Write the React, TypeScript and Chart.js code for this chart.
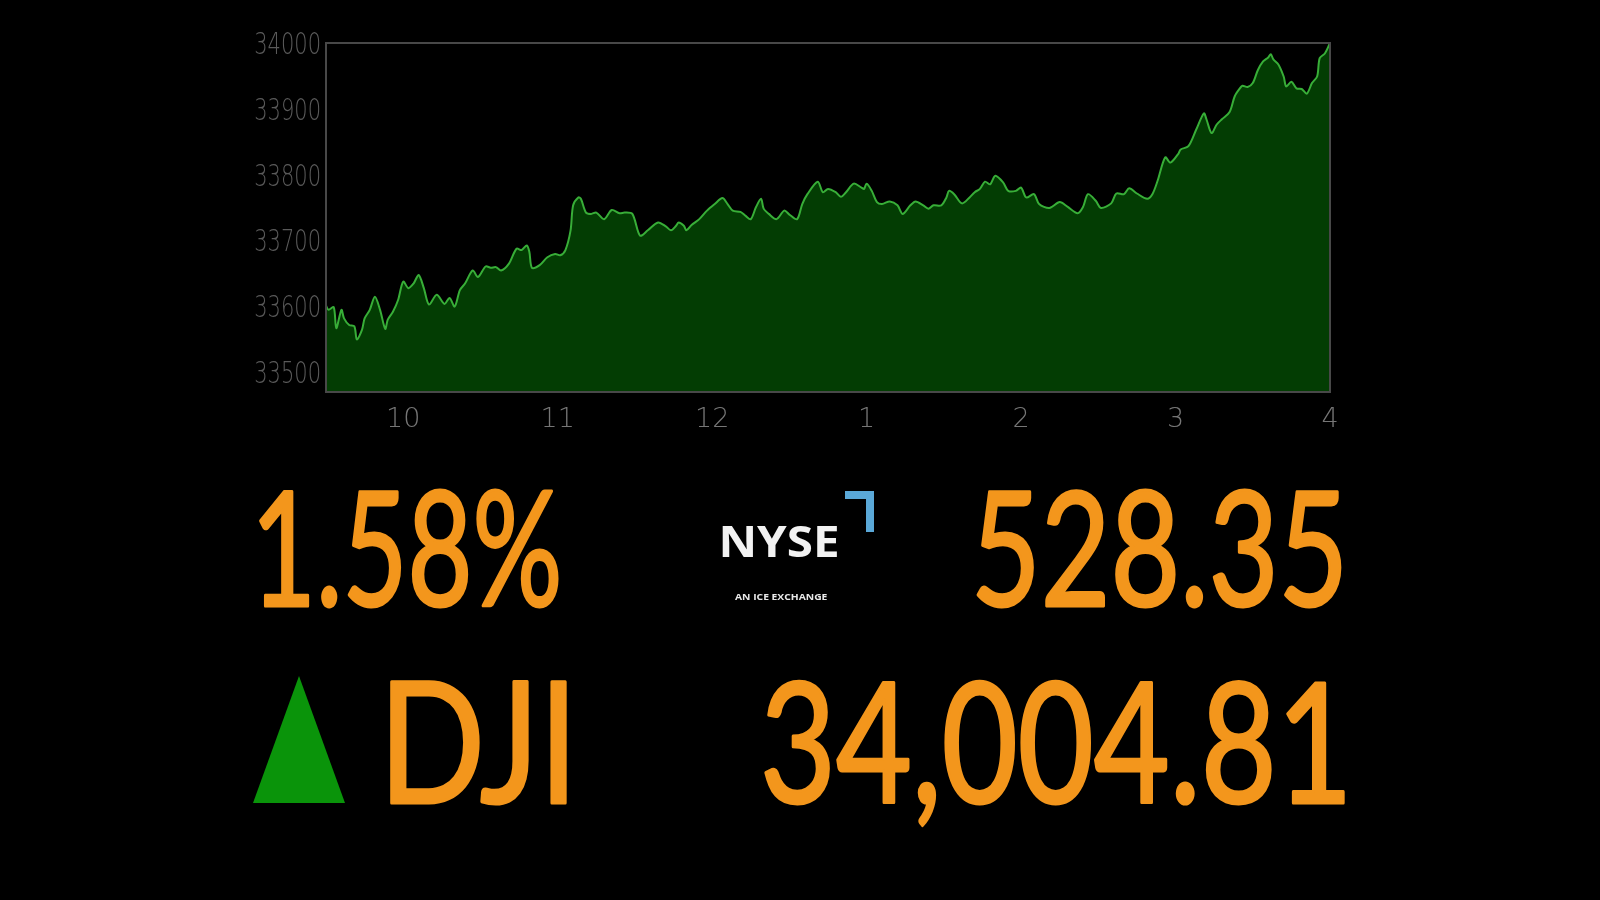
import React, { useEffect, useRef, useMemo } from "react";
import { Chart, registerables } from "chart.js";

Chart.register(...registerables);

// Minutes after 9:30 (trading session 9:30 - 16:00)
const minutes = [
  0, 1, 3, 4, 6, 7, 9, 11, 12, 14, 15, 17, 19, 21, 23, 24, 26, 28, 30, 32, 34, 36, 38, 40, 43, 46, 48, 50, 52, 54, 57, 59, 62, 64, 66,
  68, 71, 74, 76, 78, 79, 80, 83, 86, 89, 91, 93, 95, 96, 98, 99, 101, 103, 105, 108, 111, 114, 116, 119, 122, 125, 129, 132, 134,
  136, 137, 139, 140, 142, 145, 148, 151, 154, 156, 158, 161, 163, 165, 167, 169, 170, 172, 175, 178, 180, 183, 185, 187, 191, 193, 195, 198, 200,
  202, 205, 208, 209, 210, 212, 214, 216, 219, 222, 224, 227, 229, 232, 234, 236, 239, 241, 242, 244, 247, 250, 252, 254, 256, 258, 260, 263, 265,
  268, 270, 272, 275, 277, 281, 285, 288, 292, 294, 296, 299, 301, 305, 307, 310, 312, 315, 319, 321, 323, 326, 328, 331,
  332, 335, 338, 341, 342, 344, 346, 348, 351, 353, 355, 356, 358, 360, 362, 364, 366, 367, 368, 370, 372, 373, 375, 377, 379, 381, 383, 385, 386, 388, 390,
];

const dji = [
  33605, 33599, 33603, 33571, 33599, 33586, 33576, 33574, 33554, 33569, 33586, 33599, 33619, 33599, 33570, 33584, 33596, 33614, 33642, 33632, 33639, 33652, 33632, 33607, 33622, 33608, 33617, 33604, 33629, 33639, 33659, 33649, 33665, 33663, 33664,
  33659, 33669, 33692, 33690, 33697, 33687, 33663, 33667, 33679, 33684, 33682, 33690, 33720, 33758, 33770, 33768, 33747, 33745, 33747, 33737, 33751, 33746, 33747, 33745, 33712, 33720, 33732, 33726, 33720,
  33727, 33732, 33727, 33720, 33728, 33737, 33750, 33760, 33769, 33760, 33750, 33748, 33742, 33737, 33755, 33768, 33753, 33745, 33737, 33750, 33744, 33737, 33760, 33775, 33794, 33778, 33783, 33778, 33771,
  33778, 33791, 33785, 33783, 33791, 33780, 33763, 33760, 33764, 33758, 33745, 33758, 33764, 33758, 33753, 33758, 33758, 33770, 33780, 33775, 33761, 33770, 33778, 33783, 33794, 33790, 33803, 33793, 33780,
  33780, 33785, 33770, 33775, 33760, 33754, 33763, 33756, 33746, 33755, 33775, 33765, 33754, 33761, 33776, 33775, 33784, 33776, 33768, 33775, 33795, 33831, 33823, 33836,
  33843, 33848, 33873, 33898, 33889, 33868, 33881, 33889, 33900, 33924, 33936, 33940, 33938, 33944, 33964, 33977, 33983, 33988, 33980, 33972, 33954, 33939, 33946, 33936, 33935, 33928, 33944, 33954, 33982, 33989, 34005,
];

const hourTicks = [30, 90, 150, 210, 270, 330, 390];
const hourLabels = ["10", "11", "12", "1", "2", "3", "4"];
const yMin = 33474;
const yMax = 34005;
const yStep = 100;

const percentChange = "1.58%";
const pointChange = "528.35";
const indexName = "DJI";
const indexValue = "34,004.81";

const AXIS_FONT = "'DejaVu Sans'";
const BIG_FONT = "Lato";

let measureCtx: CanvasRenderingContext2D | null = null;
function fitTransform(text: string, family: string, weight: number, size: number, left: number, right: number, top: number, baseline: number) {
  if (!measureCtx) measureCtx = document.createElement("canvas").getContext("2d");
  const ctx = measureCtx!;
  ctx.font = `${weight} ${size}px ${family}`;
  const m = ctx.measureText(text);
  const inkW = m.actualBoundingBoxLeft + m.actualBoundingBoxRight;
  const sx = (right - left) / inkW;
  const sy = (baseline - top) / m.actualBoundingBoxAscent;
  const tx = left + sx * m.actualBoundingBoxLeft;
  return `translate(${tx} ${baseline}) scale(${sx} ${sy})`;
}

function FitText(props: { text: string; family: string; weight: number; size: number; box: number[]; fill: string; stroke?: number }) {
  const { text, family, weight, size, box, fill, stroke } = props;
  const tr = useMemo(() => fitTransform(text, family, weight, size, box[0], box[1], box[2], box[3]), [text, family, weight, size, box]);
  return (
    <text
      x={0}
      y={0}
      transform={tr}
      fontFamily={family}
      fontWeight={weight}
      fontSize={size}
      fill={fill}
      stroke={stroke ? fill : undefined}
      strokeWidth={stroke || undefined}
      strokeLinejoin="round"
    >
      {text}
    </text>
  );
}

// Draw a thin frame round the plot area
const frame = {
  id: "frame",
  afterDatasetsDraw(chart: any) {
    const { ctx, chartArea } = chart;
    ctx.save();
    ctx.strokeStyle = "#484848";
    ctx.lineWidth = 2;
    ctx.strokeRect(chartArea.left, chartArea.top, chartArea.right - chartArea.left, chartArea.bottom - chartArea.top);
    ctx.restore();
  },
};

// Narrow the y-axis labels horizontally (the reference uses a condensed face)
const narrowLabels = {
  id: "narrowLabels",
  afterLayout(chart: any) {
    const ys = chart.scales.y;
    if (!ys || ys.__narrowed) return;
    const orig = ys.drawLabels.bind(ys);
    ys.drawLabels = (area: any) => {
      const ctx = chart.ctx;
      const ax = ys.right - 5;
      ctx.save();
      ctx.translate(ax, 0);
      ctx.scale(0.7, 1);
      ctx.translate(-ax, 0);
      orig(area);
      ctx.restore();
    };
    ys.__narrowed = true;
  },
};

export default function App() {
  const canvasRef = useRef<HTMLCanvasElement | null>(null);

  useEffect(() => {
    const points = minutes.map((m, i) => ({ x: m, y: dji[i] }));
    const chart = new Chart(canvasRef.current!, {
      type: "line",
      data: {
        datasets: [
          {
            data: points,
            borderColor: "#38ae38",
            borderWidth: 2,
            backgroundColor: "#033d03",
            fill: "start",
            tension: 0.3,
            pointRadius: 0,
          },
        ],
      },
      options: {
        animation: false,
        responsive: false,
        maintainAspectRatio: false,
        layout: { padding: { top: 43, right: 270, left: 0, bottom: 0 } },
        plugins: { legend: { display: false }, tooltip: { enabled: false } },
        scales: {
          x: {
            type: "linear",
            min: 0,
            max: 390,
            grid: { display: false, drawTicks: false },
            border: { display: false },
            afterBuildTicks: (s: any) => {
              s.ticks = hourTicks.map((v) => ({ value: v }));
            },
            afterFit: (s: any) => {
              s.height = 68;
            },
            ticks: {
              autoSkip: false,
              maxRotation: 0,
              padding: 12,
              color: "#767676",
              font: { family: AXIS_FONT, size: 27, weight: 200 },
              callback: (_v: any, i: number) => hourLabels[i],
            },
          },
          y: {
            min: yMin,
            max: yMax,
            grid: { display: false, drawTicks: false },
            border: { display: false },
            afterFit: (s: any) => {
              s.width = 326;
            },
            ticks: {
              stepSize: yStep,
              includeBounds: false,
              padding: 5,
              color: "#5a5a5a",
              font: { family: AXIS_FONT, size: 30, weight: 200 },
              callback: (v: any) => String(v),
            },
          },
        },
      },
      plugins: [frame, narrowLabels],
    } as any);
    return () => chart.destroy();
  }, []);

  const orange = "#f3961c";

  return (
    <div style={{ position: "fixed", left: 0, top: 0, width: 1600, height: 900, background: "#000", overflow: "hidden" }}>
      <canvas ref={canvasRef} width={1600} height={460} style={{ position: "absolute", left: 0, top: 0, width: 1600, height: 460 }} />
      <svg width={1600} height={900} style={{ position: "absolute", left: 0, top: 0 }}>
        <FitText text={percentChange} family={BIG_FONT} weight={400} size={160} box={[260, 558, 490, 606]} fill={orange} stroke={3} />
        <FitText text={pointChange} family={BIG_FONT} weight={400} size={160} box={[977, 1341, 490, 606]} fill={orange} stroke={3} />
        <FitText text={indexName} family={BIG_FONT} weight={400} size={160} box={[391, 566, 682, 803]} fill={orange} stroke={3} />
        <FitText text={indexValue} family={BIG_FONT} weight={400} size={160} box={[765, 1344, 682, 803]} fill={orange} stroke={3} />
        <polygon points="253,803 345,803 299,676" fill="#0a940a" />
        <FitText text="NYSE" family="'Open Sans'" weight={700} size={40} box={[722, 838, 527, 557]} fill="#f2f2f2" />
        <FitText text="AN ICE EXCHANGE" family="'Open Sans'" weight={700} size={10} box={[735, 828, 593, 600]} fill="#e8e8e8" />
        <path d="M845 491 H874 V532 H866 V499 H845 Z" fill="#5aa8d8" />
      </svg>
    </div>
  );
}
